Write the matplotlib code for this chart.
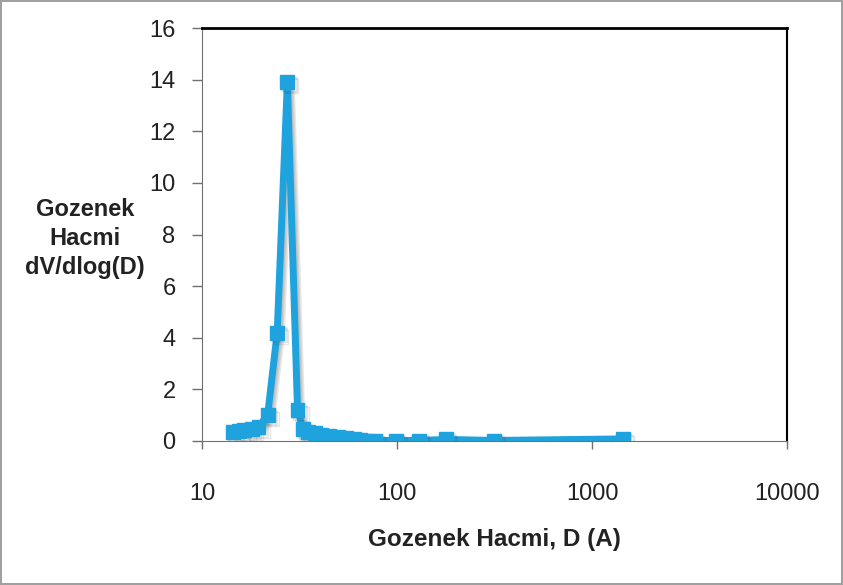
import matplotlib
matplotlib.use("Agg")
import matplotlib.pyplot as plt
import matplotlib.patheffects as pe

# pore diameter (A) and dV/dlog(D)
diameter = [14.4, 15.5, 16.5, 18.0, 19.5, 21.7, 24.3, 27.4, 30.9, 33.0, 35.0,
            38.0, 41.0, 45.0, 50.0, 55.0, 60.0, 65.0, 70.0, 77.0, 99.0, 130.0,
            179.0, 314.0, 1439.0]
dv_dlogd = [0.35, 0.38, 0.42, 0.45, 0.55, 1.0, 4.2, 13.9, 1.2, 0.45, 0.35,
            0.3, 0.25, 0.2, 0.15, 0.12, 0.08, 0.03, 0.02, 0.02, 0.02, 0.02,
            0.06, 0.02, 0.08]

x_ticks = [10, 100, 1000, 10000]
y_ticks = list(range(0, 17, 2))

plt.rcParams['font.family'] = ['Liberation Sans', 'DejaVu Sans']

fig = plt.figure(figsize=(8.43, 5.85), dpi=100)
fig.patch.set_facecolor('white')
fig.patch.set_edgecolor('#a0a0a0')
fig.patch.set_linewidth(1.5)
ax = fig.add_axes([0.2396, 0.2462, 0.6940, 0.7058])

# soft drop shadow built from a few offset copies of the line
line_color = '#1fa3df'
shadow = [pe.SimpleLineShadow(offset=(d, -d), alpha=0.12, shadow_color='#404040')
          for d in (1, 2, 3)]
ax.plot(diameter, dv_dlogd, color=line_color, linewidth=5, marker='s',
        markersize=10, markeredgecolor=line_color, solid_joinstyle='round',
        path_effects=shadow + [pe.Normal()])

ax.set_xscale('log')
ax.set_xlim(10, 10000)
ax.set_ylim(0, 16)
ax.set_xticks(x_ticks)
ax.set_xticklabels([str(t) for t in x_ticks])
ax.minorticks_off()
ax.set_yticks(y_ticks)

ax.tick_params(axis='y', direction='out', length=7, width=1, color='#707070',
               labelsize=17, pad=12, labelcolor='#222222')
ax.tick_params(axis='x', direction='out', length=6, width=1, color='#707070',
               labelsize=17, pad=24, labelcolor='#222222')

ax.spines['left'].set_color('#707070')
ax.spines['bottom'].set_color('#707070')
ax.spines['top'].set_color('black')
ax.spines['top'].set_linewidth(2)
ax.spines['right'].set_color('black')
ax.spines['right'].set_linewidth(1.5)

ax.set_ylabel('Gozenek\nHacmi\ndV/dlog(D)', rotation=0, fontsize=17,
              fontweight='bold', ha='center', va='center', linespacing=1.35,
              color='#222222')
ax.yaxis.set_label_coords(-0.2, 0.49)
ax.set_xlabel('Gozenek Hacmi, D (A)', fontsize=17.5, fontweight='bold',
              labelpad=17, color='#222222')

fig.savefig('out.png', dpi=100, facecolor=fig.get_facecolor(),
            edgecolor=fig.get_edgecolor())
